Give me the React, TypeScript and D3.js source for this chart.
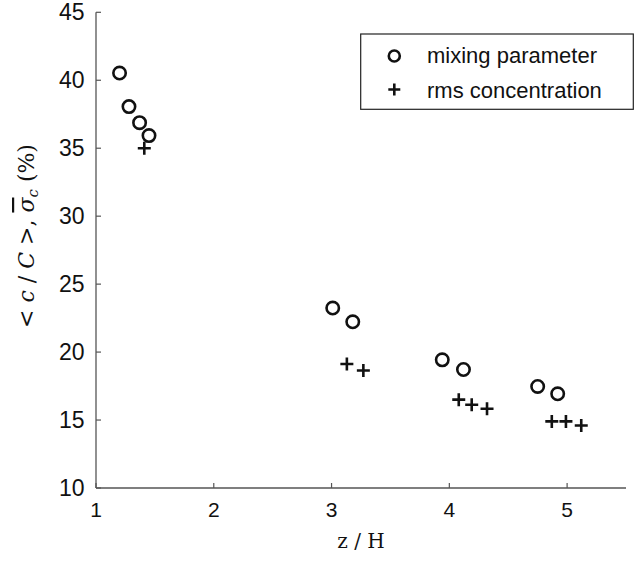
import React from "react";
import * as d3 from "d3";

// Mixing parameter <c/C> (%) against height z/H
const mixX = [1.2, 1.28, 1.37, 1.45, 3.01, 3.18, 3.94, 4.12, 4.75, 4.92];
const mixY = [40.53, 38.06, 36.88, 35.93, 23.24, 22.23, 19.43, 18.72, 17.47, 16.93];

// RMS concentration σc (%) against height z/H
const rmsX = [1.41, 3.13, 3.27, 4.08, 4.19, 4.32, 4.87, 4.99, 5.12];
const rmsY = [35.0, 19.12, 18.65, 16.5, 16.13, 15.83, 14.9, 14.9, 14.6];

const xTicks = [1, 2, 3, 4, 5];
const yTicks = [10, 15, 20, 25, 30, 35, 40, 45];
const legendLabels = ["mixing parameter", "rms concentration"];

const W = 643;
const H = 561;
const left = 96;
const right = 626;
const top = 12.3;
const bottom = 488;

export default function App() {
  const x = d3.scaleLinear().domain([1, 5.5]).range([left, right]);
  const y = d3.scaleLinear().domain([10, 45]).range([bottom, top]);
  const font = "'Liberation Sans', Arial, Helvetica, sans-serif";
  const serif = "'DejaVu Serif', 'Liberation Serif', serif";
  const axisColor = "#555";
  const plus = (cx: number, cy: number, s: number) =>
    `M${cx - s},${cy}H${cx + s}M${cx},${cy - s}V${cy + s}`;

  return (
    <svg
      width={W}
      height={H}
      style={{ position: "absolute", left: 0, top: 0, background: "#fff" }}
    >
      {/* axes */}
      <line x1={left} x2={left} y1={top} y2={bottom} stroke={axisColor} strokeWidth={1.3} />
      <line x1={left} x2={right} y1={bottom} y2={bottom} stroke={axisColor} strokeWidth={1.3} />
      {xTicks.map((t) => (
        <g key={"x" + t}>
          <line x1={x(t)} x2={x(t)} y1={bottom} y2={bottom - 5} stroke={axisColor} strokeWidth={1.2} />
          <text x={x(t)} y={516.5} textAnchor="middle" fontFamily={font} fontSize={21} fill="#111">
            {t}
          </text>
        </g>
      ))}
      {yTicks.map((t) => (
        <g key={"y" + t}>
          <line x1={left} x2={left + 5} y1={y(t)} y2={y(t)} stroke={axisColor} strokeWidth={1.2} />
          <text x={84.5} y={y(t) + 8} textAnchor="end" fontFamily={font} fontSize={23} fill="#111">
            {t}
          </text>
        </g>
      ))}

      {/* series */}
      {mixX.map((v, i) => (
        <circle key={"m" + i} cx={x(v)} cy={y(mixY[i])} r={6.2} fill="none" stroke="#111" strokeWidth={2.6} />
      ))}
      {rmsX.map((v, i) => (
        <path key={"r" + i} d={plus(x(v), y(rmsY[i]), 6.5)} stroke="#111" strokeWidth={2.6} fill="none" />
      ))}

      {/* legend */}
      <rect x={360.7} y={34} width={272.6} height={75.3} fill="#fff" stroke="#222" strokeWidth={1.2} />
      <circle cx={394.3} cy={56} r={5.5} fill="none" stroke="#111" strokeWidth={2.6} />
      <path d={plus(394.3, 89.5, 6)} stroke="#111" strokeWidth={2.6} fill="none" />
      <text x={427} y={62.5} fontFamily={font} fontSize={22} fill="#111">
        {legendLabels[0]}
      </text>
      <text x={427} y={97.5} fontFamily={font} fontSize={22} fill="#111">
        {legendLabels[1]}
      </text>

      {/* axis titles */}
      <text x={361} y={548} textAnchor="middle" fontFamily={serif} fontSize={20} fill="#111">
        z / H
      </text>
      <text
        transform="translate(34,236) rotate(-90)"
        textAnchor="middle"
        fontFamily={serif}
        fontSize={22}
        fill="#111"
      >
        <tspan>{"<  "}</tspan>
        <tspan fontStyle="italic">c</tspan>
        <tspan>{" / "}</tspan>
        <tspan fontStyle="italic">C</tspan>
        <tspan>{"  >, "}</tspan>
        <tspan fontStyle="italic" textDecoration="overline">σ</tspan>
        <tspan fontStyle="italic" fontSize={15} dy={4}>c</tspan>
        <tspan dy={-4}>{" (%)"}</tspan>
      </text>
    </svg>
  );
}
